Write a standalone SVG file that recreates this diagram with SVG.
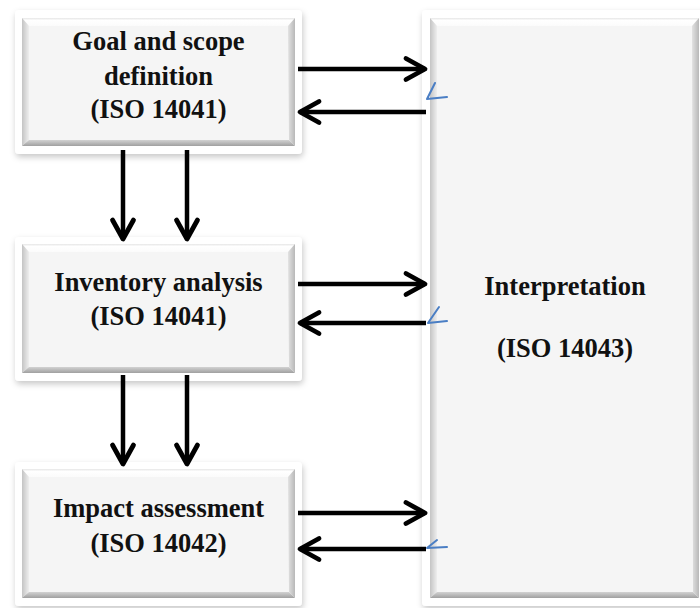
<svg xmlns="http://www.w3.org/2000/svg" width="700" height="608" viewBox="0 0 700 608">
<defs>
<filter id="sh" x="-10%" y="-10%" width="120%" height="125%">
<feDropShadow dx="1" dy="3" stdDeviation="3" flood-color="#000" flood-opacity="0.22"/>
</filter>
<linearGradient id="gTop" x1="0" y1="0" x2="0" y2="1"><stop offset="0" stop-color="#e6e6e6"/><stop offset="0.3" stop-color="#ffffff"/><stop offset="1" stop-color="#fbfbfb"/></linearGradient>
<linearGradient id="gLeft" x1="0" y1="0" x2="1" y2="0"><stop offset="0" stop-color="#c4c4c4"/><stop offset="1" stop-color="#eeeeee"/></linearGradient>
<linearGradient id="gBot" x1="0" y1="0" x2="0" y2="1"><stop offset="0" stop-color="#d2d2d2"/><stop offset="1" stop-color="#a0a0a0"/></linearGradient>
<linearGradient id="gRight" x1="0" y1="0" x2="1" y2="0"><stop offset="0" stop-color="#e2e2e2"/><stop offset="1" stop-color="#b8b8b8"/></linearGradient>
<marker id="ah" markerUnits="userSpaceOnUse" markerWidth="40" markerHeight="40" viewBox="-30 -20 40 40" refX="0" refY="0" orient="auto" overflow="visible">
<path d="M-19,-10.5 L0,0 L-19,10.5" fill="none" stroke="#000" stroke-width="4.8" stroke-linecap="round" stroke-linejoin="round"/>
</marker>
</defs>
<style>
.frame{fill:#ffffff;filter:url(#sh)}
.face{fill:#f5f5f5}
.bt{fill:url(#gTop)}
.bl{fill:url(#gLeft)}
.bb{fill:url(#gBot)}
.br{fill:url(#gRight)}
.lbl{font-family:"Liberation Serif","Times New Roman",serif;font-weight:bold;font-size:26.5px;fill:#111;text-anchor:middle}
.arr{stroke:#000;stroke-width:4.5;fill:none;marker-end:url(#ah)}
.tick{stroke:#4a7ec4;stroke-width:2;fill:none;stroke-linecap:round;stroke-linejoin:round}
</style>
<rect width="700" height="608" fill="#ffffff"/>

<g id="goal">
<rect class="frame" x="15" y="10" width="287" height="144" rx="4"/>
<rect class="face" x="22" y="18" width="273" height="128"/>
<polygon class="bt" points="22,18 295,18 288,26 29,26"/>
<polygon class="bl" points="22,18 29,26 29,140 22,146"/>
<polygon class="bb" points="22,146 29,140 289,140 295,146"/>
<polygon class="br" points="295,18 295,146 289,140 288,26"/>
<text class="lbl" x="158.5" y="50">Goal and scope</text>
<text class="lbl" x="158.5" y="84.5">definition</text>
<text class="lbl" x="158.5" y="118">(ISO 14041)</text>
</g>

<g id="inventory">
<rect class="frame" x="15" y="237" width="287" height="144" rx="4"/>
<rect class="face" x="22" y="244" width="273" height="129"/>
<polygon class="bt" points="22,244 295,244 288,252 29,252"/>
<polygon class="bl" points="22,244 29,252 29,367 22,373"/>
<polygon class="bb" points="22,373 29,367 289,367 295,373"/>
<polygon class="br" points="295,244 295,373 289,367 288,252"/>
<text class="lbl" x="158.5" y="290.5">Inventory analysis</text>
<text class="lbl" x="158.5" y="325">(ISO 14041)</text>
</g>

<g id="impact">
<rect class="frame" x="15" y="462" width="287" height="144" rx="4"/>
<rect class="face" x="22" y="469" width="273" height="129"/>
<polygon class="bt" points="22,469 295,469 288,477 29,477"/>
<polygon class="bl" points="22,469 29,477 29,592 22,598"/>
<polygon class="bb" points="22,598 29,592 289,592 295,598"/>
<polygon class="br" points="295,469 295,598 289,592 288,477"/>
<text class="lbl" x="158.5" y="517">Impact assessment</text>
<text class="lbl" x="158.5" y="552">(ISO 14042)</text>
</g>

<g id="interpretation">
<rect class="frame" x="422" y="10" width="300" height="596" rx="4"/>
<rect class="face" x="430" y="18" width="269" height="580"/>
<polygon class="bt" points="430,18 699,18 692,26 437,26"/>
<polygon class="bl" points="430,18 437,26 437,592 430,598"/>
<polygon class="bb" points="430,598 437,592 693,592 699,598"/>
<polygon class="br" points="699,18 699,598 693,592 692,26"/>
<text class="lbl" x="565" y="295">Interpretation</text>
<text class="lbl" x="565" y="357">(ISO 14043)</text>
</g>

<g id="connectors">
<line class="arr" x1="298" y1="69" x2="425" y2="69"/>
<line class="arr" x1="426" y1="112" x2="300" y2="112"/>
<line class="arr" x1="298" y1="284" x2="425" y2="284"/>
<line class="arr" x1="426" y1="323" x2="300" y2="323"/>
<line class="arr" x1="298" y1="513" x2="425" y2="513"/>
<line class="arr" x1="426" y1="549" x2="300" y2="549"/>
<line class="arr" x1="123" y1="150" x2="123" y2="239"/>
<line class="arr" x1="187" y1="150" x2="187" y2="239"/>
<line class="arr" x1="123" y1="375" x2="123" y2="464"/>
<line class="arr" x1="187" y1="375" x2="187" y2="464"/>
<polyline class="tick" points="435,83 427,99 447,97"/>
<polyline class="tick" points="439,307 428,323 447,321"/>
<polyline class="tick" points="437,540 427,548 447,547"/>
</g>
</svg>
